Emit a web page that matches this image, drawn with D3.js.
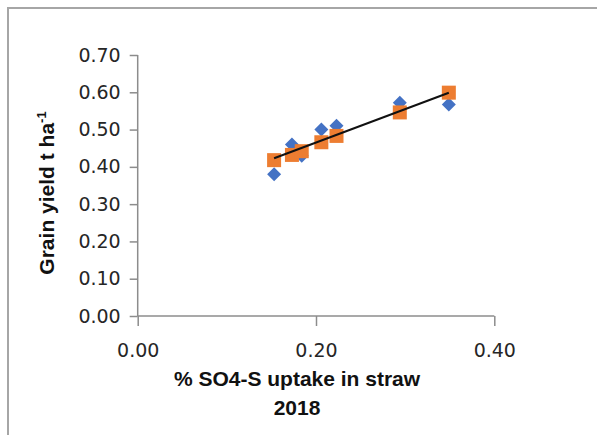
<!DOCTYPE html>
<html>
<head>
<meta charset="utf-8">
<script src="https://cdn.jsdelivr.net/npm/d3@7"></script>
<style>
  html, body { margin: 0; padding: 0; background: #fff; }
  svg { display: block; }
</style>
</head>
<body>
<svg id="chart" width="597" height="435"></svg>
<script>
// ---- data ----
const sUptake   = [0.153, 0.173, 0.184, 0.206, 0.223, 0.294, 0.349];
const grainObs  = [0.38, 0.46, 0.43, 0.50, 0.51, 0.572, 0.567];
const grainPred = [0.418, 0.432, 0.442, 0.466, 0.483, 0.546, 0.599];
const xTicks = [0, 0.2, 0.4];
const yTicks = [0, 0.1, 0.2, 0.3, 0.4, 0.5, 0.6, 0.7];
const xTitle = "% SO4-S uptake in straw";
const xTitle2 = "2018";

const svg = d3.select("#chart");
const W = 597, H = 435;

// frame (left + top border only)
svg.append("path")
  .attr("d", `M8,${H} L8,8 L${W},8`)
  .attr("fill", "none").attr("stroke", "#a6a6a6").attr("stroke-width", 2);

const x = d3.scaleLinear().domain([0, 0.4]).range([137.7, 494.3]);
const y = d3.scaleLinear().domain([0, 0.7]).range([316, 55]);

const tickFont = "DejaVu Sans, Verdana, sans-serif";

// y axis
const yAxis = svg.append("g").attr("transform", `translate(${x(0)},0)`)
  .call(d3.axisLeft(y).tickValues(yTicks).tickFormat(d3.format(".2f")).tickSize(8).tickPadding(9));
yAxis.select(".domain").attr("stroke", "#8c8c8c").attr("stroke-width", 1.5)
  .attr("d", `M0,${y(0.7)}V${y(0)}`);
yAxis.selectAll(".tick line").attr("stroke", "#8c8c8c").attr("stroke-width", 1.5);
yAxis.selectAll(".tick text").attr("font-family", tickFont).attr("font-size", 19).attr("fill", "#262626");

// x axis
const xAxis = svg.append("g").attr("transform", `translate(0,${y(0)})`)
  .call(d3.axisBottom(x).tickValues(xTicks).tickFormat(d3.format(".2f")).tickSize(10).tickPadding(18));
xAxis.select(".domain").attr("stroke", "#8c8c8c").attr("stroke-width", 1.5)
  .attr("d", `M${x(0)},0H${x(0.4)}`);
xAxis.selectAll(".tick line").attr("stroke", "#8c8c8c").attr("stroke-width", 1.5);
xAxis.selectAll(".tick text").attr("font-family", tickFont).attr("font-size", 19).attr("fill", "#262626");

// observed values: blue diamonds
const pts = sUptake.map((d, i) => ({x: d, obs: grainObs[i], pred: grainPred[i]}));
svg.append("g").selectAll("path.obs").data(pts).join("path")
  .attr("class", "obs")
  .attr("transform", d => `translate(${x(d.x)},${y(d.obs)})`)
  .attr("d", "M0,-7L7,0L0,7L-7,0Z")
  .attr("fill", "#4472C4");

// predicted values: orange squares
svg.append("g").selectAll("rect.pred").data(pts).join("rect")
  .attr("class", "pred")
  .attr("x", d => x(d.x) - 7).attr("y", d => y(d.pred) - 7)
  .attr("width", 14).attr("height", 14)
  .attr("fill", "#ED7D31");

// linear trendline of observed values
const mx = d3.mean(sUptake), my = d3.mean(grainObs);
const sxy = d3.sum(pts, d => (d.x - mx) * (d.obs - my));
const sxx = d3.sum(pts, d => (d.x - mx) ** 2);
const slope = sxy / sxx, icpt = my - slope * mx;
const xr = d3.extent(sUptake);
svg.append("line")
  .attr("x1", x(xr[0])).attr("y1", y(icpt + slope * xr[0]))
  .attr("x2", x(xr[1])).attr("y2", y(icpt + slope * xr[1]))
  .attr("stroke", "#111").attr("stroke-width", 2);

// axis titles
const titleFont = "Liberation Sans, Arial, sans-serif";
svg.append("text").attr("x", 297).attr("y", 386).attr("text-anchor", "middle")
  .attr("font-family", titleFont).attr("font-weight", "bold").attr("font-size", 21)
  .attr("fill", "#111").text(xTitle);
svg.append("text").attr("x", 297).attr("y", 415).attr("text-anchor", "middle")
  .attr("font-family", titleFont).attr("font-weight", "bold").attr("font-size", 21)
  .attr("fill", "#111").text(xTitle2);

const yt = svg.append("text")
  .attr("transform", "translate(54,193) rotate(-90)")
  .attr("text-anchor", "middle")
  .attr("font-family", titleFont).attr("font-weight", "bold").attr("font-size", 21)
  .attr("fill", "#111");
yt.append("tspan").text("Grain yield t ha");
yt.append("tspan").attr("font-size", 13).attr("dy", -8).text("-1");
</script>
</body>
</html>
